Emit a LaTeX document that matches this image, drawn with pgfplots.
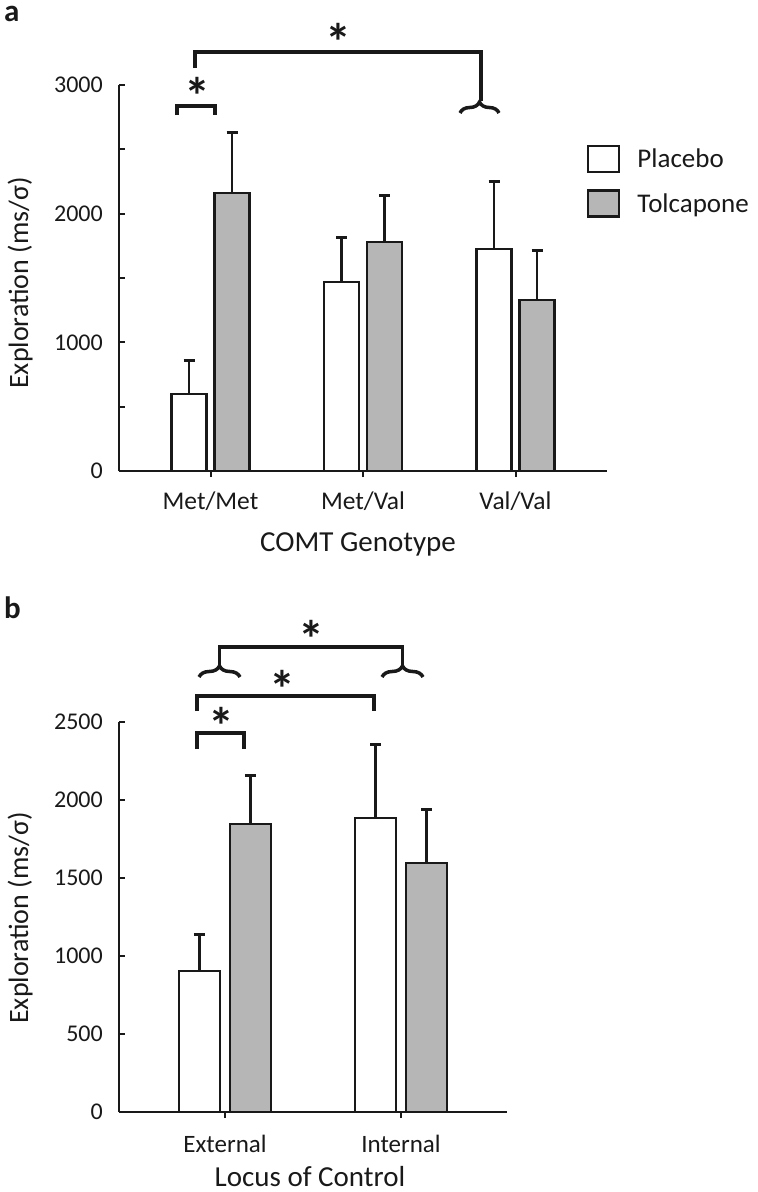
\documentclass[border=0pt]{standalone}
\usepackage{fontspec}
\setmainfont{Carlito}
\usepackage{pgfplots}
\usepackage{pgfplotstable}
\pgfplotsset{compat=1.18}
\usetikzlibrary{decorations.pathreplacing}
\definecolor{barfill}{RGB}{182,182,182}
\definecolor{ink}{RGB}{25,25,25}

\pgfplotstableread{
x p pe t te
0 598 257 2160 474
1 1469 349 1779 366
2 1725 528 1329 388
}\dataA

\pgfplotstableread{
x p pe t te
0 904 231 1846 314
1 1885 468 1596 346
}\dataB

\pgfplotsset{
  myaxis/.style={
    scale only axis,
    axis lines=left,
    axis line style={-, line width=2.5pt, ink},
    tick align=inside,
    major tick length=6pt, minor tick length=6pt,
    every tick/.style={line width=2pt, ink},
    ymin=0,
    clip=false,
    /pgf/number format/assume math mode=true,
    /pgf/number format/1000 sep={},
    ticklabel style={font=\fontsize{24}{24}\selectfont, text=ink},
    yticklabel style={inner sep=0pt, xshift=-16pt},
    xticklabel style={inner sep=0pt, yshift=-15pt, font=\fontsize{25.5}{25.5}\selectfont},
    xtick=data,
  },
  barP/.style={draw=ink, line width=2.5pt, fill=white,
    error bars/y dir=plus, error bars/y explicit,
    error bars/error bar style={line width=2.5pt, ink},
    error bars/error mark options={rotate=90, mark size=5.5pt, line width=3pt, ink}},
  barT/.style={draw=ink, line width=2.5pt, fill=barfill,
    error bars/y dir=plus, error bars/y explicit,
    error bars/error bar style={line width=2.5pt, ink},
    error bars/error mark options={rotate=90, mark size=5.5pt, line width=3pt, ink}},
}

\begin{document}
\begin{tikzpicture}[x=1pt,y=1pt]
\useasboundingbox (0,0) rectangle (758,-1192);

% ---------------- panel a ----------------
\begin{axis}[myaxis,
  at={(119pt,-471pt)}, anchor=south west,
  width=488pt, height=386pt,
  xmin=-0.6, xmax=2.6, ymax=3000,
  ybar=8pt, bar width=35pt,
  ytick={0,1000,2000,3000}, minor ytick={500,1500,2500},
  xticklabels={Met/Met,Met/Val,Val/Val},
  legend style={draw=none, fill=none, at={(0.959,0.8446)}, anchor=north west,
    inner sep=0pt, outer sep=0pt, row sep=16pt, column sep=17pt,
    font=\fontsize{27}{27}\selectfont, text=ink, nodes={inner sep=0pt}},
  legend cell align=left,
]
\addplot[legend image code/.code={\draw[draw=ink, line width=2.5pt, fill=white] (0pt,-13pt) rectangle (31pt,13pt);}, barP]
  table[x=x, y=p, y error=pe] {\dataA};
\addlegendentry{Placebo}
\addplot[legend image code/.code={\draw[draw=ink, line width=2.5pt, fill=barfill] (0pt,-13pt) rectangle (31pt,13pt);}, barT]
  table[x=x, y=t, y error=te] {\dataA};
\addlegendentry{Tolcapone}
\end{axis}

% ---------------- panel b ----------------
\begin{axis}[myaxis,
  at={(119pt,-1112pt)}, anchor=south west,
  width=388pt, height=390pt,
  xmin=-0.6022, xmax=1.6022, ymax=2500,
  ybar=10pt, bar width=41pt,
  ytick={0,500,1000,1500,2000,2500},
  xticklabels={External,Internal},
  xticklabel style={yshift=-2pt, font=\fontsize{25}{25}\selectfont},
]
\addplot[barP] table[x=x, y=p, y error=pe] {\dataB};
\addplot[barT] table[x=x, y=t, y error=te] {\dataB};
\end{axis}

% ---------------- labels ----------------
\node[anchor=base west, font=\bfseries\fontsize{31}{31}\selectfont, text=ink, inner sep=0pt] at (4,-21) {a};
\node[anchor=base west, font=\bfseries\fontsize{31}{31}\selectfont, text=ink, inner sep=0pt] at (4,-618) {b};

\node[anchor=base, font=\fontsize{29}{29}\selectfont, text=ink] at (358,-551) {COMT Genotype};
\node[anchor=base, font=\fontsize{29}{29}\selectfont, text=ink] at (310,-1186) {Locus of Control};

\node[anchor=base, rotate=90, font=\fontsize{28}{28}\selectfont, text=ink] at (28,-283) {Exploration (ms/σ)};
\node[anchor=base, rotate=90, font=\fontsize{28}{28}\selectfont, text=ink] at (28,-918) {Exploration (ms/σ)};

% ---------------- significance brackets ----------------
\begin{scope}[ink, line width=3.5pt]
\draw (177,-115) -- (177,-106) -- (215,-106) -- (215,-115);
\draw (195,-68) -- (195,-52) -- (481,-52) -- (481,-101);
\draw[decorate, decoration={brace, amplitude=11pt}] (460,-113) -- (499,-113);

\draw (197,-749) -- (197,-733) -- (244,-733) -- (244,-749);
\draw (197,-711) -- (197,-696) -- (374,-696) -- (374,-711);
\draw (219.5,-665) -- (219.5,-647) -- (402.5,-647) -- (402.5,-665);
\draw[decorate, decoration={brace, amplitude=11pt}] (199,-677) -- (240,-677);
\draw[decorate, decoration={brace, amplitude=11pt}] (382,-677) -- (423,-677);
\end{scope}

\begin{scope}[every node/.style={anchor=base, font=\bfseries\fontsize{52}{52}\selectfont, text=ink, inner sep=0pt}]
\node at (197,-87-27) {*};
\node at (338,-33-27) {*};
\node at (221,-717-27) {*};
\node at (282,-680-27) {*};
\node at (311,-630-27) {*};
\end{scope}
\end{tikzpicture}
\end{document}
